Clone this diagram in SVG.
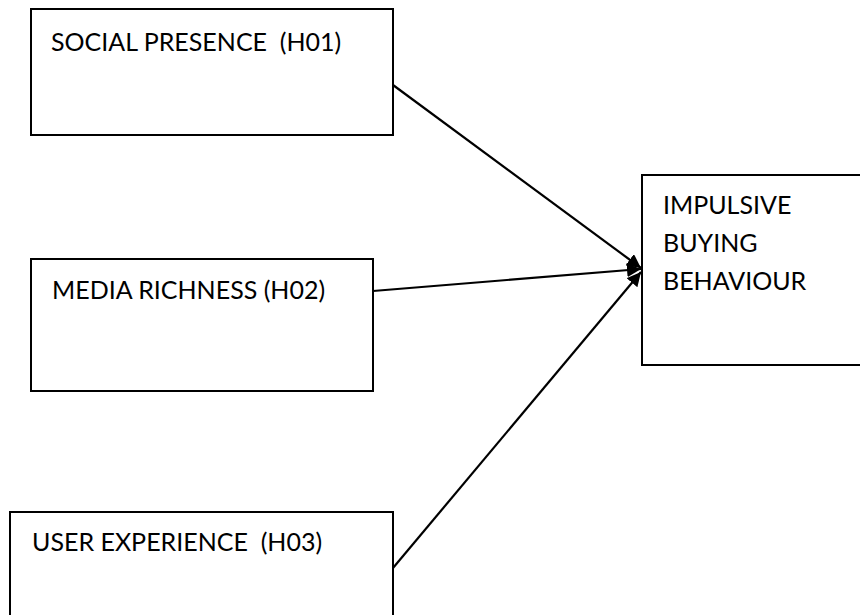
<svg xmlns="http://www.w3.org/2000/svg" width="860" height="615" viewBox="0 0 860 615">
<style>
.box{fill:#fff;stroke:#000;stroke-width:2}
.lbl{font-family:Lato,"Liberation Sans",sans-serif;font-size:25px;fill:#000;white-space:pre}
.con{stroke:#000;stroke-width:2.2;fill:none}
</style>
<defs>
<marker id="ahb" viewBox="0 0 10 10" refX="10" refY="5" markerWidth="14" markerHeight="14" orient="auto" markerUnits="userSpaceOnUse">
<path d="M0,0 L10,5 L0,10 z" fill="#000"/>
</marker>
</defs>
<rect width="860" height="615" fill="#fff"/>
<g id="n1"><rect class="box" x="31" y="9" width="362" height="126"/><text class="lbl" x="51" y="51" xml:space="preserve">SOCIAL PRESENCE  (H01)</text></g>
<g id="n2"><rect class="box" x="31" y="259" width="342" height="132"/><text class="lbl" x="52" y="299">MEDIA RICHNESS (H02)</text></g>
<g id="n3"><rect class="box" x="10" y="512" width="383" height="120"/><text class="lbl" x="32" y="551" xml:space="preserve">USER EXPERIENCE  (H03)</text></g>
<g id="n4"><rect class="box" x="642" y="175" width="240" height="190"/><text class="lbl" x="663" y="214">IMPULSIVE</text><text class="lbl" x="663" y="252">BUYING</text><text class="lbl" x="663" y="290">BEHAVIOUR</text></g>
<g id="connectors">
<line class="con" x1="393" y1="85" x2="641" y2="268" marker-end="url(#ahb)"/>
<line class="con" x1="373" y1="291" x2="641" y2="269" marker-end="url(#ahb)"/>
<line class="con" x1="393" y1="568" x2="641" y2="272" marker-end="url(#ahb)"/>
</g>
</svg>
